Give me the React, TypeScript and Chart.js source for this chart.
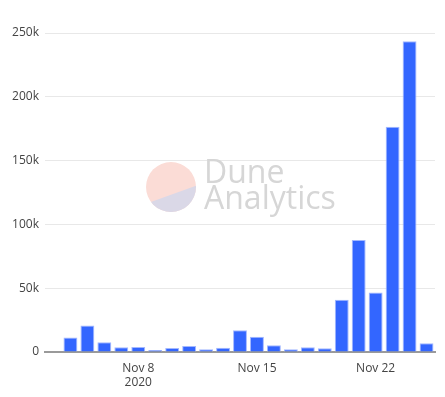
import React, { useEffect, useRef } from "react";
import { Chart, registerables } from "chart.js";

Chart.register(...registerables);

const days = [4, 5, 6, 7, 8, 9, 10, 11, 12, 13, 14, 15, 16, 17, 18, 19, 20, 21, 22, 23, 24, 25];
const values = [11300, 20700, 7600, 3700, 3900, 1600, 3100, 4700, 2100, 3400, 17000, 12000, 5200, 2100, 3700, 2900, 41000, 87700, 46600, 176600, 243600, 6800];
const tickValues = [8, 15, 22];
const tickLabels: (string | string[])[] = [["Nov 8", "2020"], "Nov 15", "Nov 22"];
const yTickValues = [0, 50000, 100000, 150000, 200000, 250000];
const yTickLabels = ["0", "50k", "100k", "150k", "200k", "250k"];

const watermark = {
  id: "watermark",
  beforeDatasetsDraw(chart: any) {
    const ctx = chart.ctx;
    ctx.save();
    const cx = 171, cy = 187, r = 25;
    ctx.beginPath();
    ctx.arc(cx, cy, r, 0, Math.PI * 2);
    ctx.fillStyle = "#fbdcd6";
    ctx.fill();
    ctx.save();
    ctx.beginPath();
    ctx.arc(cx, cy, r, 0, Math.PI * 2);
    ctx.clip();
    ctx.beginPath();
    ctx.moveTo(140, 206);
    ctx.lineTo(202, 183.5);
    ctx.lineTo(202, 220);
    ctx.lineTo(140, 220);
    ctx.closePath();
    ctx.fillStyle = "#dad8e7";
    ctx.fill();
    ctx.restore();
    ctx.fillStyle = "#d6d6d6";
    ctx.font = "28px 'Open Sans'";
    ctx.textBaseline = "alphabetic";
    ctx.textAlign = "left";
    const w = ctx.measureText("Analytics").width;
    const scale = 132 / w;
    ctx.font = `${(28 * scale).toFixed(1)}px 'Open Sans'`;
    ctx.fillText("Dune", 204, 182.5);
    ctx.fillText("Analytics", 204, 208.5);
    ctx.restore();
  },
};

export default function App() {
  const ref = useRef<HTMLCanvasElement>(null);
  useEffect(() => {
    document.body.style.margin = "0";
    const chart = new Chart(ref.current!, {
      type: "bar",
      data: {
        datasets: [
          {
            data: days.map((d, i) => ({ x: d, y: values[i] })),
            backgroundColor: "#3366ff",
            borderColor: "#a3b8ff",
            borderWidth: 1,
            barPercentage: 0.82,
            categoryPercentage: 1,
          },
        ],
      },
      options: {
        animation: false,
        responsive: true,
        maintainAspectRatio: false,
        layout: { padding: { top: 33, right: 10, left: 0, bottom: 0 } },
        plugins: { legend: { display: false }, tooltip: { enabled: false } },
        scales: {
          x: {
            type: "linear",
            min: 2.5,
            max: 25.5,
            offset: false,
            grid: { display: false },
            border: { display: true, color: "#9a9a9a", width: 2 },
            afterBuildTicks: (s: any) => {
              s.ticks = tickValues.map((v) => ({ value: v }));
            },
            afterFit: (s: any) => {
              s.height = 45;
            },
            ticks: {
              autoSkip: false,
              maxRotation: 0,
              padding: 1,
              color: "#444",
              font: { family: "'Open Sans'", size: 12, lineHeight: 1.2 },
              callback: (v: any) => {
                const i = tickValues.indexOf(Number(v));
                return i >= 0 ? tickLabels[i] : "";
              },
            },
          },
          y: {
            min: 0,
            max: 250000,
            grid: { color: "#e8e8e8", drawTicks: false },
            border: { display: false },
            afterBuildTicks: (s: any) => {
              s.ticks = yTickValues.map((v) => ({ value: v }));
            },
            afterFit: (s: any) => {
              s.width = 45;
            },
            ticks: {
              padding: 6,
              color: "#444",
              font: { family: "'Open Sans'", size: 12 },
              callback: (v: any) => {
                const i = yTickValues.indexOf(Number(v));
                return i >= 0 ? yTickLabels[i] : "";
              },
            },
          },
        },
      },
      plugins: [watermark],
    });
    return () => chart.destroy();
  }, []);
  return (
    <div style={{ width: 445, height: 397, position: "relative" }}>
      <canvas ref={ref} />
    </div>
  );
}
